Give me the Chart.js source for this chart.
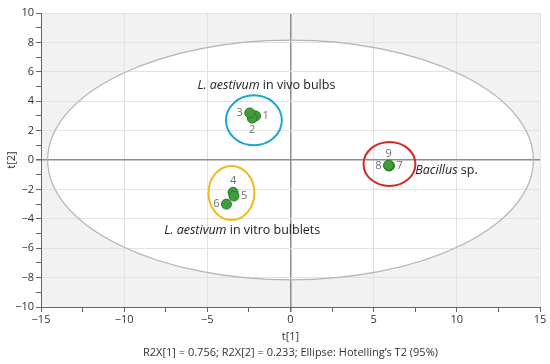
<!DOCTYPE html>
<html>
<head>
<meta charset="utf-8">
<script src="https://cdn.jsdelivr.net/npm/chart.js@4.4.1/dist/chart.umd.min.js"></script>
<style>
  html,body{margin:0;padding:0;background:#fff;}
  #wrap{width:550px;height:364px;}
</style>
</head>
<body>
<div id="wrap"><canvas id="chart" width="550" height="364"></canvas></div>
<script>
// score values t[1], t[2] for the 9 samples
const sampleIds = ['1','2','3','4','5','6','7','8','9'];
const t1 = [-2.1, -2.3, -2.45, -3.45, -3.4, -3.85, 5.95, 5.9, 5.9];
const t2 = [3.0, 2.85, 3.2, -2.2, -2.45, -3.0, -0.4, -0.4, -0.35];
const labelSide = ['right','below','left','above','right','left','right','left','above'];

// Hotelling T2 ellipse (95%)
const ellipseRadius = [14.6, 8.15];

// group rings: center t1, center t2, radius t1, radius t2
const groupNames = ['vivo','bacillus','vitro'];
const groupCenter = [[-2.2, 2.7], [5.95, -0.27], [-3.55, -2.25]];
const groupRadius = [[1.68, 1.7], [1.56, 1.5], [1.38, 1.84]];
const groupColor = ['#1aa7d6', '#d62a2a', '#f0bb1a'];

// group captions
const captionItalic = ['L. aestivum', 'Bacillus', 'L. aestivum'];
const captionPlain = [' in vivo bulbs', ' sp.', ' in vitro bulblets'];
const captionPos = [[-1.45, 5.1], [7.5, -0.68], [-2.9, -4.76]];
const captionAlign = ['center', 'left', 'center'];

const FONT = "'Open Sans', 'Noto Sans', sans-serif";
const minus = v => String(v).replace('-', '\u2212');

const scorePlot = {
  id: 'scorePlot',
  beforeDraw(chart){
    const {ctx, chartArea:a, scales:{x, y}} = chart;
    ctx.save();
    ctx.fillStyle = '#f2f2f2';
    ctx.fillRect(a.left, a.top, a.right - a.left, a.bottom - a.top);
    const cx = x.getPixelForValue(0), cy = y.getPixelForValue(0);
    const rx = x.getPixelForValue(ellipseRadius[0]) - cx;
    const ry = cy - y.getPixelForValue(ellipseRadius[1]);
    ctx.beginPath();
    ctx.ellipse(cx, cy, rx, ry, 0, 0, Math.PI*2);
    ctx.fillStyle = '#fff';
    ctx.fill();
    ctx.restore();
  },
  beforeDatasetsDraw(chart){
    const {ctx, scales:{x, y}} = chart;
    ctx.save();
    const cx = x.getPixelForValue(0), cy = y.getPixelForValue(0);
    const rx = x.getPixelForValue(ellipseRadius[0]) - cx;
    const ry = cy - y.getPixelForValue(ellipseRadius[1]);
    ctx.beginPath();
    ctx.ellipse(cx, cy, rx, ry, 0, 0, Math.PI*2);
    ctx.strokeStyle = '#b4b4b4';
    ctx.lineWidth = 1.2;
    ctx.stroke();

    groupNames.forEach((g, i) => {
      const gx = x.getPixelForValue(groupCenter[i][0]);
      const gy = y.getPixelForValue(groupCenter[i][1]);
      const grx = x.getPixelForValue(groupCenter[i][0] + groupRadius[i][0]) - gx;
      const gry = gy - y.getPixelForValue(groupCenter[i][1] + groupRadius[i][1]);
      ctx.beginPath();
      ctx.ellipse(gx, gy, grx, gry, 0, 0, Math.PI*2);
      ctx.strokeStyle = groupColor[i];
      ctx.lineWidth = 2;
      ctx.stroke();
    });
    ctx.restore();
  },
  afterDatasetsDraw(chart){
    const {ctx, scales:{x, y}} = chart;
    ctx.save();
    // sample numbers
    ctx.font = '11px ' + FONT;
    ctx.fillStyle = '#6d7566';
    sampleIds.forEach((id, i) => {
      let px = x.getPixelForValue(t1[i]), py = y.getPixelForValue(t2[i]);
      if (labelSide[i] === 'right'){ ctx.textAlign='left'; ctx.textBaseline='middle'; px += 7; }
      if (labelSide[i] === 'left'){ ctx.textAlign='right'; ctx.textBaseline='middle'; px -= 7; }
      if (labelSide[i] === 'above'){ ctx.textAlign='center'; ctx.textBaseline='bottom'; py -= 6; }
      if (labelSide[i] === 'below'){ ctx.textAlign='center'; ctx.textBaseline='top'; py += 6; }
      ctx.fillText(id, px, py);
    });
    // group captions
    ctx.fillStyle = '#222';
    ctx.textBaseline = 'middle';
    captionItalic.forEach((it, i) => {
      const fi = 'italic 12.5px ' + FONT, fp = '12.5px ' + FONT;
      ctx.font = fi; const w1 = ctx.measureText(it).width;
      ctx.font = fp; const w2 = ctx.measureText(captionPlain[i]).width;
      let px = x.getPixelForValue(captionPos[i][0]);
      const py = y.getPixelForValue(captionPos[i][1]);
      if (captionAlign[i] === 'center') px -= (w1 + w2) / 2;
      ctx.textAlign = 'left';
      ctx.font = fi; ctx.fillText(it, px, py);
      ctx.font = fp; ctx.fillText(captionPlain[i], px + w1, py);
    });
    ctx.restore();
  }
};

new Chart(document.getElementById('chart'), {
  type: 'scatter',
  data: {
    datasets: [{
      data: t1.map((v, i) => ({x: v, y: t2[i]})),
      backgroundColor: '#3f9e3a',
      borderColor: '#2a7a28',
      borderWidth: 1,
      pointRadius: 5
    }]
  },
  options: {
    responsive: false,
    animation: false,
    layout: {padding: {top: 13, right: 10, left: 0, bottom: 0}},
    plugins: {legend: {display: false}, tooltip: {enabled: false}},
    scales: {
      x: {
        type: 'linear', min: -15, max: 15,
        afterBuildTicks: s => { s.ticks = []; for (let v = -15; v <= 15; v += 2.5) s.ticks.push({value: v}); },
        afterFit: s => { s.height = 57; },
        ticks: {
          autoSkip: false, maxRotation: 0, padding: 1,
          color: '#333', font: {family: FONT, size: 11},
          callback: v => v % 5 === 0 ? minus(v) : ''
        },
        grid: {
          color: c => c.tick && c.tick.value === 0 ? '#8c8c8c' : (Math.abs(c.tick ? c.tick.value % 5 : 0) > 0 ? 'transparent' : '#e2e2e2'),
          lineWidth: c => c.tick && c.tick.value === 0 ? 1.5 : 1,
          tickColor: '#666', tickLength: 5
        },
        border: {color: '#666', width: 1},
        title: {
          display: true, text: ['t[1]', 'R2X[1] = 0.756; R2X[2] = 0.233; Ellipse: Hotelling\u2019s T2 (95%)'],
          color: '#333', font: {family: FONT, size: 11, lineHeight: 1.45}, padding: {top: 0, bottom: 3}
        }
      },
      y: {
        type: 'linear', min: -10, max: 10,
        afterBuildTicks: s => { s.ticks = []; for (let v = -10; v <= 10; v += 1) s.ticks.push({value: v}); },
        afterFit: s => { s.width = 41; },
        ticks: {
          autoSkip: false, padding: 2,
          color: '#333', font: {family: FONT, size: 11},
          callback: v => v % 2 === 0 ? minus(v) : ''
        },
        grid: {
          color: c => c.tick && c.tick.value === 0 ? '#8c8c8c' : (Math.abs(c.tick ? c.tick.value % 2 : 0) > 0 ? 'transparent' : '#e2e2e2'),
          lineWidth: c => c.tick && c.tick.value === 0 ? 1.5 : 1,
          tickColor: '#666', tickLength: 5
        },
        border: {color: '#666', width: 1},
        title: {
          display: true, text: 't[2]', color: '#333',
          font: {family: FONT, size: 11}, padding: {top: 5, bottom: 0}
        }
      }
    }
  },
  plugins: [scorePlot]
});
</script>
</body>
</html>
